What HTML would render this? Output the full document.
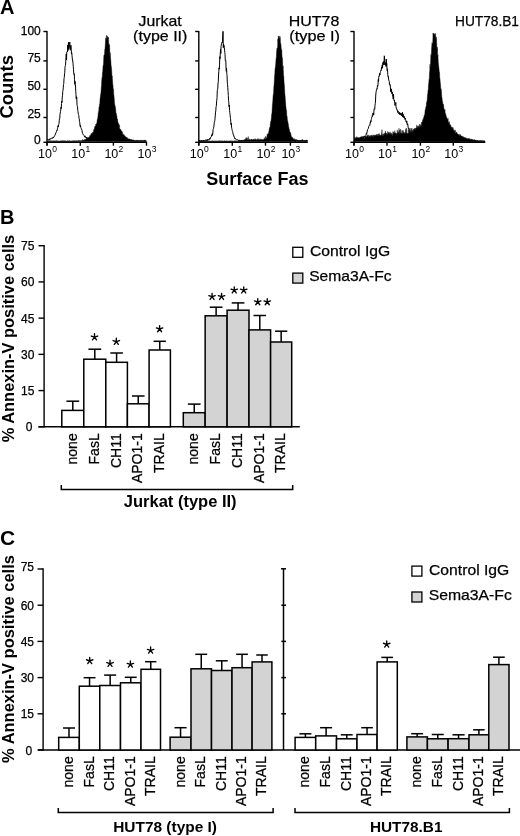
<!DOCTYPE html>
<html><head><meta charset="utf-8"><style>
html,body{margin:0;padding:0;background:#fff;width:520px;height:836px;overflow:hidden}
svg{display:block;will-change:transform}
text{font-family:"Liberation Sans", sans-serif;fill:#000}
text[font-weight=normal]{stroke:#000;stroke-width:0.25px}
</style></head><body>
<svg width="520" height="836" viewBox="0 0 520 836">
<rect width="520" height="836" fill="#fff"/>
<text x="0.00" y="14.40" font-size="20" font-weight="bold" text-anchor="start">A</text>
<text x="0.00" y="223.60" font-size="20" font-weight="bold" text-anchor="start">B</text>
<text x="0.00" y="545.30" font-size="21" font-weight="bold" text-anchor="start">C</text>
<line x1="47.00" y1="30.90" x2="47.00" y2="145.50" stroke="#000" stroke-width="1.4"/>
<line x1="43.40" y1="31.50" x2="47.00" y2="31.50" stroke="#000" stroke-width="1.4"/>
<line x1="43.40" y1="60.90" x2="47.00" y2="60.90" stroke="#000" stroke-width="1.4"/>
<line x1="43.40" y1="89.30" x2="47.00" y2="89.30" stroke="#000" stroke-width="1.4"/>
<line x1="43.40" y1="117.50" x2="47.00" y2="117.50" stroke="#000" stroke-width="1.4"/>
<line x1="43.40" y1="142.30" x2="47.00" y2="142.30" stroke="#000" stroke-width="1.4"/>
<line x1="46.30" y1="142.30" x2="146.80" y2="142.30" stroke="#000" stroke-width="1.4"/>
<line x1="47.00" y1="142.30" x2="47.00" y2="145.70" stroke="#000" stroke-width="1.4"/>
<text x="38.00" y="158.0" font-size="12.5">10<tspan font-size="8.5" dx="0.3" dy="-6.3">0</tspan></text>
<line x1="80.30" y1="142.30" x2="80.30" y2="145.70" stroke="#000" stroke-width="1.4"/>
<text x="71.30" y="158.0" font-size="12.5">10<tspan font-size="8.5" dx="0.3" dy="-6.3">1</tspan></text>
<line x1="113.40" y1="142.30" x2="113.40" y2="145.70" stroke="#000" stroke-width="1.4"/>
<text x="104.40" y="158.0" font-size="12.5">10<tspan font-size="8.5" dx="0.3" dy="-6.3">2</tspan></text>
<line x1="146.50" y1="142.30" x2="146.50" y2="145.70" stroke="#000" stroke-width="1.4"/>
<text x="137.50" y="158.0" font-size="12.5">10<tspan font-size="8.5" dx="0.3" dy="-6.3">3</tspan></text>
<line x1="198.80" y1="30.90" x2="198.80" y2="145.50" stroke="#000" stroke-width="1.4"/>
<line x1="195.20" y1="31.50" x2="198.80" y2="31.50" stroke="#000" stroke-width="1.4"/>
<line x1="195.20" y1="60.90" x2="198.80" y2="60.90" stroke="#000" stroke-width="1.4"/>
<line x1="195.20" y1="89.30" x2="198.80" y2="89.30" stroke="#000" stroke-width="1.4"/>
<line x1="195.20" y1="117.50" x2="198.80" y2="117.50" stroke="#000" stroke-width="1.4"/>
<line x1="195.20" y1="142.30" x2="198.80" y2="142.30" stroke="#000" stroke-width="1.4"/>
<line x1="198.10" y1="142.30" x2="307.80" y2="142.30" stroke="#000" stroke-width="1.4"/>
<line x1="198.80" y1="142.30" x2="198.80" y2="145.70" stroke="#000" stroke-width="1.4"/>
<text x="189.80" y="158.0" font-size="12.5">10<tspan font-size="8.5" dx="0.3" dy="-6.3">0</tspan></text>
<line x1="232.30" y1="142.30" x2="232.30" y2="145.70" stroke="#000" stroke-width="1.4"/>
<text x="223.30" y="158.0" font-size="12.5">10<tspan font-size="8.5" dx="0.3" dy="-6.3">1</tspan></text>
<line x1="265.50" y1="142.30" x2="265.50" y2="145.70" stroke="#000" stroke-width="1.4"/>
<text x="256.50" y="158.0" font-size="12.5">10<tspan font-size="8.5" dx="0.3" dy="-6.3">2</tspan></text>
<line x1="290.40" y1="142.30" x2="290.40" y2="145.70" stroke="#000" stroke-width="1.4"/>
<text x="281.40" y="158.0" font-size="12.5">10<tspan font-size="8.5" dx="0.3" dy="-6.3">3</tspan></text>
<line x1="354.00" y1="30.90" x2="354.00" y2="145.50" stroke="#000" stroke-width="1.4"/>
<line x1="350.40" y1="31.50" x2="354.00" y2="31.50" stroke="#000" stroke-width="1.4"/>
<line x1="350.40" y1="60.90" x2="354.00" y2="60.90" stroke="#000" stroke-width="1.4"/>
<line x1="350.40" y1="89.30" x2="354.00" y2="89.30" stroke="#000" stroke-width="1.4"/>
<line x1="350.40" y1="117.50" x2="354.00" y2="117.50" stroke="#000" stroke-width="1.4"/>
<line x1="350.40" y1="142.30" x2="354.00" y2="142.30" stroke="#000" stroke-width="1.4"/>
<line x1="353.30" y1="142.30" x2="485.30" y2="142.30" stroke="#000" stroke-width="1.4"/>
<line x1="354.00" y1="142.30" x2="354.00" y2="145.70" stroke="#000" stroke-width="1.4"/>
<text x="345.00" y="158.0" font-size="12.5">10<tspan font-size="8.5" dx="0.3" dy="-6.3">0</tspan></text>
<line x1="387.00" y1="142.30" x2="387.00" y2="145.70" stroke="#000" stroke-width="1.4"/>
<text x="378.00" y="158.0" font-size="12.5">10<tspan font-size="8.5" dx="0.3" dy="-6.3">1</tspan></text>
<line x1="420.40" y1="142.30" x2="420.40" y2="145.70" stroke="#000" stroke-width="1.4"/>
<text x="411.40" y="158.0" font-size="12.5">10<tspan font-size="8.5" dx="0.3" dy="-6.3">2</tspan></text>
<line x1="453.30" y1="142.30" x2="453.30" y2="145.70" stroke="#000" stroke-width="1.4"/>
<text x="444.30" y="158.0" font-size="12.5">10<tspan font-size="8.5" dx="0.3" dy="-6.3">3</tspan></text>
<text x="40.80" y="35.20" font-size="12" font-weight="normal" text-anchor="end">100</text>
<text x="40.80" y="62.30" font-size="12" font-weight="normal" text-anchor="end">75</text>
<text x="40.80" y="89.70" font-size="12" font-weight="normal" text-anchor="end">50</text>
<text x="40.80" y="117.90" font-size="12" font-weight="normal" text-anchor="end">25</text>
<text x="40.80" y="143.50" font-size="12" font-weight="normal" text-anchor="end">0</text>
<text x="13.50" y="86.80" font-size="18" font-weight="bold" text-anchor="middle" transform="rotate(-90 13.50 86.80)" textLength="63.30" lengthAdjust="spacingAndGlyphs">Counts</text>
<text x="257.40" y="184.60" font-size="18" font-weight="bold" text-anchor="middle">Surface Fas</text>
<text x="160.15" y="25.90" font-size="15" font-weight="normal" text-anchor="middle" textLength="43.10" lengthAdjust="spacingAndGlyphs">Jurkat</text>
<text x="160.25" y="41.10" font-size="15" font-weight="normal" text-anchor="middle" textLength="54.30" lengthAdjust="spacingAndGlyphs">(type II)</text>
<text x="314.10" y="26.20" font-size="15" font-weight="normal" text-anchor="middle" textLength="50.50" lengthAdjust="spacingAndGlyphs">HUT78</text>
<text x="314.65" y="41.40" font-size="15" font-weight="normal" text-anchor="middle" textLength="50.80" lengthAdjust="spacingAndGlyphs">(type I)</text>
<text x="455.00" y="25.90" font-size="15" font-weight="normal" text-anchor="start" textLength="64.00" lengthAdjust="spacingAndGlyphs">HUT78.B1</text>
<path d="M47.50,140.97 L47.75,140.75 L48.00,140.53 L48.25,140.58 L48.50,140.75 L48.75,140.88 L49.00,140.55 L49.25,141.01 L49.50,140.68 L49.75,140.78 L50.00,140.58 L50.25,140.93 L50.50,140.73 L50.75,140.77 L51.00,140.89 L51.25,140.57 L51.50,141.08 L51.75,141.01 L52.00,140.98 L52.25,140.92 L52.50,140.91 L52.75,140.81 L53.00,140.68 L53.25,140.76 L53.50,141.00 L53.75,140.98 L54.00,140.61 L54.25,140.98 L54.50,141.03 L54.75,140.73 L55.00,140.93 L55.25,140.78 L55.50,140.81 L55.75,141.04 L56.00,140.93 L56.25,140.84 L56.50,141.07 L56.75,140.64 L57.00,140.48 L57.25,140.80 L57.50,140.69 L57.75,140.99 L58.00,140.89 L58.25,141.01 L58.50,140.80 L58.75,140.91 L59.00,140.89 L59.25,141.04 L59.50,141.05 L59.75,141.06 L60.00,140.79 L60.25,140.74 L60.50,140.97 L60.75,140.92 L61.00,140.71 L61.25,140.61 L61.50,140.95 L61.75,141.08 L62.00,141.04 L62.25,141.08 L62.50,140.79 L62.75,140.24 L63.00,140.78 L63.25,140.95 L63.50,140.66 L63.75,140.95 L64.00,140.66 L64.25,141.08 L64.50,140.94 L64.75,140.94 L65.00,140.57 L65.25,141.06 L65.50,140.70 L65.75,140.88 L66.00,140.97 L66.25,140.93 L66.50,141.08 L66.75,141.04 L67.00,141.08 L67.25,140.81 L67.50,140.65 L67.75,140.83 L68.00,141.04 L68.25,141.03 L68.50,140.94 L68.75,140.47 L69.00,140.69 L69.25,140.69 L69.50,140.85 L69.75,140.96 L70.00,140.64 L70.25,140.93 L70.50,140.99 L70.75,141.01 L71.00,141.07 L71.25,140.84 L71.50,140.90 L71.75,141.07 L72.00,141.02 L72.25,140.97 L72.50,140.61 L72.75,141.05 L73.00,141.08 L73.25,140.87 L73.50,140.79 L73.75,140.71 L74.00,140.62 L74.25,140.75 L74.50,140.83 L74.75,140.72 L75.00,140.70 L75.25,141.07 L75.50,140.71 L75.75,140.95 L76.00,140.45 L76.25,140.77 L76.50,140.72 L76.75,140.86 L77.00,140.63 L77.25,140.63 L77.50,140.79 L77.75,140.96 L78.00,140.85 L78.25,140.77 L78.50,140.20 L78.75,140.84 L79.00,140.42 L79.25,140.64 L79.50,140.73 L79.75,140.55 L80.00,140.66 L80.25,140.94 L80.50,140.48 L80.75,140.46 L81.00,140.66 L81.25,140.55 L81.50,140.56 L81.75,140.39 L82.00,140.65 L82.25,140.49 L82.50,139.40 L82.75,139.90 L83.00,140.29 L83.25,140.29 L83.50,139.97 L83.75,140.11 L84.00,139.90 L84.25,140.42 L84.50,139.37 L84.75,139.57 L85.00,139.77 L85.25,139.60 L85.50,139.15 L85.75,139.75 L86.00,138.87 L86.25,138.86 L86.50,138.47 L86.75,138.09 L87.00,138.87 L87.25,139.62 L87.50,138.00 L87.75,137.73 L88.00,137.55 L88.25,137.92 L88.50,137.30 L88.75,137.33 L89.00,137.94 L89.25,136.94 L89.50,136.80 L89.75,135.59 L90.00,136.13 L90.25,135.24 L90.50,135.75 L90.75,136.31 L91.00,133.81 L91.25,134.83 L91.50,133.74 L91.75,132.87 L92.00,134.14 L92.25,133.95 L92.50,132.20 L92.75,132.39 L93.00,132.80 L93.25,132.12 L93.50,131.25 L93.75,129.56 L94.00,130.16 L94.25,129.16 L94.50,127.59 L94.75,126.88 L95.00,125.92 L95.25,126.08 L95.50,127.55 L95.75,124.03 L96.00,124.32 L96.25,123.88 L96.50,123.66 L96.75,123.13 L97.00,121.69 L97.25,119.32 L97.50,119.33 L97.75,117.77 L98.00,116.02 L98.25,112.73 L98.50,112.21 L98.75,110.48 L99.00,106.88 L99.25,107.03 L99.50,103.89 L99.75,103.64 L100.00,99.77 L100.25,97.62 L100.50,95.35 L100.75,93.78 L101.00,91.97 L101.25,87.90 L101.50,85.36 L101.75,80.19 L102.00,77.53 L102.25,77.87 L102.50,71.94 L102.75,71.17 L103.00,66.26 L103.25,65.22 L103.50,64.14 L103.75,56.70 L104.00,54.87 L104.25,55.09 L104.50,54.52 L104.75,49.28 L105.00,48.92 L105.25,45.21 L105.50,40.98 L105.75,37.93 L106.00,40.29 L106.25,36.53 L106.50,35.33 L106.75,38.32 L107.00,40.81 L107.25,36.42 L107.50,35.88 L107.75,36.97 L108.00,38.84 L108.25,37.72 L108.50,37.09 L108.75,44.49 L109.00,43.77 L109.25,46.66 L109.50,44.63 L109.75,49.07 L110.00,59.33 L110.25,52.74 L110.50,59.95 L110.75,59.52 L111.00,64.24 L111.25,66.31 L111.50,68.10 L111.75,71.68 L112.00,76.97 L112.25,75.95 L112.50,80.16 L112.75,83.90 L113.00,85.65 L113.25,89.89 L113.50,89.07 L113.75,94.10 L114.00,96.02 L114.25,98.75 L114.50,102.42 L114.75,105.08 L115.00,105.16 L115.25,106.83 L115.50,107.50 L115.75,110.13 L116.00,113.73 L116.25,113.15 L116.50,114.42 L116.75,115.48 L117.00,117.48 L117.25,120.29 L117.50,119.05 L117.75,121.69 L118.00,121.75 L118.25,124.39 L118.50,123.06 L118.75,125.62 L119.00,124.59 L119.25,124.85 L119.50,125.85 L119.75,128.67 L120.00,128.95 L120.25,129.62 L120.50,129.00 L120.75,129.70 L121.00,130.32 L121.25,130.48 L121.50,130.92 L121.75,131.43 L122.00,131.15 L122.25,132.81 L122.50,132.28 L122.75,134.36 L123.00,134.68 L123.25,134.47 L123.50,134.88 L123.75,134.71 L124.00,134.17 L124.25,135.75 L124.50,136.07 L124.75,135.72 L125.00,135.76 L125.25,136.42 L125.50,136.63 L125.75,136.69 L126.00,137.08 L126.25,137.16 L126.50,137.38 L126.75,137.85 L127.00,137.13 L127.25,138.28 L127.50,138.05 L127.75,138.53 L128.00,138.77 L128.25,139.03 L128.50,138.90 L128.75,138.83 L129.00,138.98 L129.25,139.54 L129.50,138.68 L129.75,139.35 L130.00,139.03 L130.25,139.38 L130.50,139.49 L130.75,140.09 L131.00,139.24 L131.25,139.40 L131.50,139.85 L131.75,139.61 L132.00,139.68 L132.25,139.85 L132.50,140.58 L132.75,140.28 L133.00,139.68 L133.25,140.01 L133.50,140.24 L133.75,140.00 L134.00,140.69 L134.25,140.42 L134.50,140.44 L134.75,140.81 L135.00,140.70 L135.25,141.01 L135.50,140.92 L135.75,140.78 L136.00,140.67 L136.25,140.85 L136.50,140.73 L136.75,140.34 L137.00,140.75 L137.25,140.73 L137.50,140.77 L137.75,140.39 L138.00,140.96 L138.25,140.64 L138.50,140.93 L138.75,140.72 L139.00,140.77 L139.25,140.84 L139.50,140.88 L139.75,140.89 L140.00,140.63 L140.25,140.77 L140.50,140.88 L140.75,140.77 L141.00,140.59 L141.25,140.75 L141.50,140.22 L141.75,140.92 L142.00,140.89 L142.25,141.09 L142.50,140.81 L142.75,141.02 L143.00,140.86 L143.25,141.02 L143.50,141.00 L143.75,141.03 L144.00,141.07 L144.25,140.61 L144.50,140.44 L144.75,141.02 L145.00,140.60 L145.25,140.73 L145.50,141.06 L145.75,141.01 L146.00,140.84 L146.25,140.88 L146.25,141.60 L47.50,141.60 Z" fill="#000" stroke="#000" stroke-width="0.4"/>
<path d="M47.50,139.81 L47.75,139.08 L48.00,139.41 L48.25,139.76 L48.50,139.67 L48.75,139.55 L49.00,139.25 L49.25,139.45 L49.50,138.96 L49.75,139.89 L50.00,138.70 L50.25,138.96 L50.50,138.82 L50.75,138.84 L51.00,138.54 L51.25,138.26 L51.50,137.91 L51.75,138.35 L52.00,138.33 L52.25,137.74 L52.50,138.25 L52.75,138.15 L53.00,137.37 L53.25,137.22 L53.50,138.03 L53.75,136.83 L54.00,136.76 L54.25,136.54 L54.50,136.38 L54.75,135.51 L55.00,134.62 L55.25,134.39 L55.50,134.53 L55.75,132.88 L56.00,132.30 L56.25,132.31 L56.50,131.39 L56.75,130.35 L57.00,130.67 L57.25,129.99 L57.50,128.19 L57.75,127.58 L58.00,125.70 L58.25,127.03 L58.50,124.93 L58.75,124.27 L59.00,123.78 L59.25,120.15 L59.50,118.60 L59.75,118.63 L60.00,114.12 L60.25,112.97 L60.50,111.66 L60.75,109.96 L61.00,107.27 L61.25,108.54 L61.50,103.56 L61.75,101.11 L62.00,102.40 L62.25,97.10 L62.50,95.71 L62.75,91.37 L63.00,90.61 L63.25,87.89 L63.50,84.35 L63.75,83.68 L64.00,78.76 L64.25,77.73 L64.50,73.94 L64.75,72.78 L65.00,67.46 L65.25,65.72 L65.50,65.29 L65.75,61.21 L66.00,57.56 L66.25,53.95 L66.50,59.81 L66.75,52.14 L67.00,51.70 L67.25,51.47 L67.50,52.00 L67.75,45.08 L68.00,50.49 L68.25,44.86 L68.50,42.28 L68.75,48.90 L69.00,45.57 L69.25,47.39 L69.50,44.23 L69.75,42.14 L70.00,44.54 L70.25,50.18 L70.50,48.11 L70.75,46.13 L71.00,45.35 L71.25,49.42 L71.50,53.78 L71.75,52.74 L72.00,55.58 L72.25,57.90 L72.50,60.90 L72.75,60.58 L73.00,63.16 L73.25,66.51 L73.50,69.22 L73.75,73.66 L74.00,74.50 L74.25,73.70 L74.50,79.20 L74.75,84.20 L75.00,81.36 L75.25,85.46 L75.50,85.17 L75.75,91.54 L76.00,94.64 L76.25,98.91 L76.50,96.77 L76.75,97.07 L77.00,104.72 L77.25,106.36 L77.50,106.49 L77.75,110.46 L78.00,111.78 L78.25,113.90 L78.50,114.59 L78.75,115.40 L79.00,118.09 L79.25,118.63 L79.50,121.63 L79.75,121.94 L80.00,125.97 L80.25,126.48 L80.50,125.26 L80.75,127.53 L81.00,127.72 L81.25,128.72 L81.50,128.79 L81.75,129.87 L82.00,130.46 L82.25,131.99 L82.50,133.13 L82.75,133.75 L83.00,134.03 L83.25,134.76 L83.50,134.74 L83.75,135.11 L84.00,135.41 L84.25,135.73 L84.50,137.13 L84.75,136.30 L85.00,136.40 L85.25,136.24 L85.50,137.04 L85.75,137.76 L86.00,137.73 L86.25,136.96 L86.50,137.68 L86.75,137.12 L87.00,137.46 L87.25,138.66 L87.50,138.52 L87.75,138.44 L88.00,138.56 L88.25,138.77 L88.50,138.87 L88.75,138.66 L89.00,139.48 L89.25,139.36 L89.50,139.38 L89.75,139.08 L90.00,139.35 L90.25,139.21 L90.50,139.45 L90.75,139.39 L91.00,139.68 L91.25,139.35 L91.50,139.99 L91.75,139.64 L92.00,140.05 L92.25,139.65 L92.50,140.03 L92.75,139.74 L93.00,140.22 L93.25,139.71 L93.50,140.00 L93.75,140.25 L94.00,139.75 L94.25,140.21 L94.50,139.86 L94.75,140.26 L95.00,140.30 L95.25,140.04 L95.50,140.21 L95.75,139.99 L96.00,140.52 L96.25,139.99 L96.50,139.95 L96.75,140.23 L97.00,140.07 L97.25,140.36 L97.50,140.30 L97.75,140.74 L98.00,140.51 L98.25,140.36 L98.50,140.12 L98.75,140.27 L99.00,140.42 L99.25,140.57 L99.50,140.24 L99.75,140.23 L100.00,140.08 L100.25,140.50 L100.50,140.14 L100.75,140.74 L101.00,140.75 L101.25,140.26 L101.50,140.57 L101.75,140.59 L102.00,140.32 L102.25,140.33 L102.50,140.51 L102.75,140.35 L103.00,140.29 L103.25,140.53 L103.50,140.48 L103.75,140.77 L104.00,140.48 L104.25,140.78 L104.50,140.45 L104.75,140.32 L105.00,140.45 L105.25,140.69 L105.50,140.73 L105.75,140.39 L106.00,140.37 L106.25,140.83 L106.50,140.72 L106.75,140.62 L107.00,140.66 L107.25,140.65 L107.50,140.71 L107.75,140.70 L108.00,140.68 L108.25,140.77 L108.50,140.60 L108.75,140.79 L109.00,140.67 L109.25,140.09 L109.50,140.66 L109.75,140.70 L110.00,140.35 L110.25,140.17 L110.50,140.26 L110.75,140.45 L111.00,140.76 L111.25,140.05 L111.50,140.67 L111.75,140.44 L112.00,140.73 L112.25,140.05 L112.50,140.10 L112.75,140.50 L113.00,140.73 L113.25,140.42 L113.50,140.46 L113.75,140.34 L114.00,140.47 L114.25,140.36 L114.50,140.57 L114.75,140.47 L115.00,140.54 L115.25,140.47 L115.50,140.55 L115.75,140.44 L116.00,140.56 L116.25,140.77 L116.50,140.67 L116.75,140.53 L117.00,140.73 L117.25,140.23 L117.50,140.71 L117.75,140.68 L118.00,140.60 L118.25,140.42 L118.50,140.29 L118.75,140.71 L119.00,140.46 L119.25,140.38 L119.50,140.30 L119.75,140.74 L120.00,140.53 L120.25,140.79 L120.50,140.59 L120.75,140.71 L121.00,140.33 L121.25,140.68 L121.50,140.76 L121.75,140.70 L122.00,140.78 L122.25,140.55 L122.50,140.54 L122.75,140.69 L123.00,140.77 L123.25,140.07 L123.50,140.67 L123.75,140.74 L124.00,140.19 L124.25,140.80 L124.50,140.47 L124.75,140.60 L125.00,140.53 L125.25,140.65 L125.50,140.70 L125.75,140.76 L126.00,140.57 L126.25,140.63 L126.50,140.62 L126.75,140.45 L127.00,140.58 L127.25,140.63 L127.50,140.19 L127.75,140.63 L128.00,140.35 L128.25,140.41 L128.50,140.75 L128.75,140.37 L129.00,140.66 L129.25,140.60 L129.50,140.51 L129.75,140.78 L130.00,140.44 L130.25,140.38 L130.50,140.48 L130.75,140.37 L131.00,140.75 L131.25,140.63 L131.50,140.70 L131.75,140.24 L132.00,140.50 L132.25,140.26 L132.50,140.77 L132.75,140.76 L133.00,140.75 L133.25,140.65 L133.50,140.36 L133.75,140.54 L134.00,140.52 L134.25,140.69 L134.50,140.62 L134.75,140.58 L135.00,140.58 L135.25,140.68 L135.50,140.60 L135.75,140.52 L136.00,140.66 L136.25,140.51 L136.50,140.76 L136.75,140.73 L137.00,140.70 L137.25,140.72 L137.50,140.74 L137.75,140.25 L138.00,140.32 L138.25,140.56 L138.50,140.63 L138.75,140.40 L139.00,140.73 L139.25,140.79 L139.50,140.63 L139.75,140.33 L140.00,140.74 L140.25,140.44 L140.50,140.53 L140.75,140.39 L141.00,140.46 L141.25,140.58 L141.50,140.65 L141.75,140.80 L142.00,140.59 L142.25,140.58 L142.50,140.49 L142.75,140.24 L143.00,140.44 L143.25,140.48 L143.50,140.37 L143.75,140.71 L144.00,140.60 L144.25,140.20 L144.50,140.05 L144.75,140.55 L145.00,140.42 L145.25,140.43 L145.50,140.45 L145.75,140.45 L146.00,140.36 L146.25,140.50" fill="none" stroke="#000" stroke-width="1.0" stroke-linejoin="bevel"/>
<path d="M199.30,140.65 L199.55,140.81 L199.80,141.10 L200.05,140.70 L200.30,141.10 L200.55,140.89 L200.80,141.10 L201.05,141.10 L201.30,140.86 L201.55,140.93 L201.80,141.01 L202.05,140.97 L202.30,141.02 L202.55,141.04 L202.80,141.10 L203.05,140.90 L203.30,141.00 L203.55,141.04 L203.80,141.10 L204.05,141.05 L204.30,141.10 L204.55,141.05 L204.80,141.10 L205.05,140.78 L205.30,141.10 L205.55,141.08 L205.80,141.00 L206.05,140.87 L206.30,140.92 L206.55,141.00 L206.80,140.63 L207.05,141.00 L207.30,140.95 L207.55,140.54 L207.80,141.10 L208.05,140.84 L208.30,140.92 L208.55,141.10 L208.80,141.10 L209.05,140.86 L209.30,141.10 L209.55,141.03 L209.80,140.84 L210.05,141.04 L210.30,140.95 L210.55,141.10 L210.80,141.10 L211.05,141.10 L211.30,141.06 L211.55,140.89 L211.80,140.99 L212.05,140.67 L212.30,140.91 L212.55,140.95 L212.80,140.62 L213.05,141.02 L213.30,141.10 L213.55,140.97 L213.80,141.10 L214.05,140.91 L214.30,140.77 L214.55,140.89 L214.80,141.07 L215.05,141.02 L215.30,140.92 L215.55,140.80 L215.80,141.07 L216.05,141.07 L216.30,140.82 L216.55,140.96 L216.80,140.94 L217.05,140.92 L217.30,141.10 L217.55,141.02 L217.80,140.82 L218.05,141.03 L218.30,141.03 L218.55,140.95 L218.80,140.93 L219.05,140.57 L219.30,141.10 L219.55,140.98 L219.80,140.66 L220.05,140.99 L220.30,140.93 L220.55,141.10 L220.80,140.83 L221.05,140.85 L221.30,140.86 L221.55,141.03 L221.80,140.94 L222.05,141.01 L222.30,140.85 L222.55,141.00 L222.80,140.87 L223.05,141.10 L223.30,141.05 L223.55,141.10 L223.80,141.02 L224.05,140.87 L224.30,141.04 L224.55,140.60 L224.80,141.10 L225.05,141.06 L225.30,141.10 L225.55,141.08 L225.80,141.08 L226.05,141.10 L226.30,141.10 L226.55,140.66 L226.80,141.04 L227.05,140.84 L227.30,141.10 L227.55,141.02 L227.80,140.91 L228.05,141.03 L228.30,141.09 L228.55,141.03 L228.80,140.99 L229.05,140.86 L229.30,140.80 L229.55,141.10 L229.80,141.10 L230.05,141.03 L230.30,141.00 L230.55,140.88 L230.80,140.82 L231.05,141.10 L231.30,140.65 L231.55,140.96 L231.80,141.10 L232.05,140.84 L232.30,140.95 L232.55,140.95 L232.80,141.10 L233.05,141.05 L233.30,140.97 L233.55,141.03 L233.80,140.88 L234.05,140.79 L234.30,140.74 L234.55,140.79 L234.80,141.02 L235.05,140.71 L235.30,140.96 L235.55,140.85 L235.80,141.04 L236.05,141.10 L236.30,141.10 L236.55,140.97 L236.80,141.10 L237.05,141.00 L237.30,140.85 L237.55,141.10 L237.80,141.10 L238.05,140.96 L238.30,140.94 L238.55,141.05 L238.80,141.09 L239.05,141.10 L239.30,141.01 L239.55,141.10 L239.80,140.93 L240.05,140.84 L240.30,141.09 L240.55,140.93 L240.80,140.97 L241.05,140.88 L241.30,140.74 L241.55,140.89 L241.80,140.88 L242.05,140.86 L242.30,141.07 L242.55,141.00 L242.80,140.94 L243.05,140.79 L243.30,140.78 L243.55,140.61 L243.80,141.10 L244.05,139.55 L244.30,141.10 L244.55,139.55 L244.80,141.01 L245.05,140.48 L245.30,139.61 L245.55,141.05 L245.80,138.22 L246.05,139.37 L246.30,137.37 L246.55,140.52 L246.80,140.35 L247.05,140.40 L247.30,137.79 L247.55,140.09 L247.80,141.07 L248.05,140.76 L248.30,136.59 L248.55,140.15 L248.80,140.08 L249.05,140.44 L249.30,139.85 L249.55,138.82 L249.80,140.46 L250.05,140.78 L250.30,140.15 L250.55,140.37 L250.80,140.82 L251.05,139.81 L251.30,139.25 L251.55,139.65 L251.80,138.97 L252.05,141.09 L252.30,140.51 L252.55,139.56 L252.80,139.81 L253.05,139.68 L253.30,138.98 L253.55,140.38 L253.80,139.52 L254.05,138.86 L254.30,139.09 L254.55,139.87 L254.80,140.51 L255.05,140.17 L255.30,138.59 L255.55,139.19 L255.80,139.54 L256.05,140.75 L256.30,141.10 L256.55,140.94 L256.80,139.06 L257.05,139.53 L257.30,140.89 L257.55,139.10 L257.80,139.67 L258.05,138.24 L258.30,140.85 L258.55,140.69 L258.80,139.19 L259.05,140.70 L259.30,140.55 L259.55,140.03 L259.80,139.26 L260.05,138.71 L260.30,140.55 L260.55,139.74 L260.80,139.37 L261.05,139.23 L261.30,138.93 L261.55,139.73 L261.80,140.61 L262.05,140.37 L262.30,139.44 L262.55,139.39 L262.80,140.40 L263.05,139.21 L263.30,140.11 L263.55,139.77 L263.80,139.53 L264.05,139.76 L264.30,137.47 L264.55,139.54 L264.80,138.79 L265.05,139.29 L265.30,139.01 L265.55,136.78 L265.80,136.27 L266.05,136.92 L266.30,138.30 L266.55,138.35 L266.80,138.03 L267.05,135.46 L267.30,133.76 L267.55,136.11 L267.80,133.93 L268.05,133.65 L268.30,134.16 L268.55,133.02 L268.80,131.48 L269.05,130.69 L269.30,128.72 L269.55,127.75 L269.80,127.22 L270.05,127.51 L270.30,124.14 L270.55,122.42 L270.80,121.05 L271.05,120.64 L271.30,118.85 L271.55,114.96 L271.80,113.82 L272.05,111.71 L272.30,106.24 L272.55,103.35 L272.80,100.74 L273.05,96.69 L273.30,94.06 L273.55,93.93 L273.80,86.96 L274.05,85.17 L274.30,81.15 L274.55,75.66 L274.80,74.10 L275.05,68.49 L275.30,67.82 L275.55,65.26 L275.80,62.61 L276.05,58.28 L276.30,58.38 L276.55,52.16 L276.80,49.56 L277.05,47.94 L277.30,49.34 L277.55,47.18 L277.80,39.16 L278.05,41.37 L278.30,36.28 L278.55,38.79 L278.80,35.82 L279.05,39.66 L279.30,37.92 L279.55,37.39 L279.80,36.32 L280.05,36.36 L280.30,37.86 L280.55,44.81 L280.80,43.49 L281.05,46.01 L281.30,49.37 L281.55,49.36 L281.80,50.10 L282.05,57.22 L282.30,57.13 L282.55,59.81 L282.80,67.84 L283.05,65.82 L283.30,69.43 L283.55,75.37 L283.80,76.32 L284.05,82.22 L284.30,84.08 L284.55,88.19 L284.80,93.74 L285.05,95.11 L285.30,98.74 L285.55,102.07 L285.80,105.70 L286.05,107.80 L286.30,110.84 L286.55,110.31 L286.80,116.20 L287.05,115.96 L287.30,118.69 L287.55,121.17 L287.80,120.91 L288.05,123.99 L288.30,123.63 L288.55,126.26 L288.80,127.11 L289.05,128.66 L289.30,129.14 L289.55,129.94 L289.80,131.85 L290.05,132.37 L290.30,131.99 L290.55,134.17 L290.80,133.38 L291.05,135.24 L291.30,135.85 L291.55,136.90 L291.80,136.88 L292.05,137.69 L292.30,137.48 L292.55,137.25 L292.80,137.88 L293.05,138.38 L293.30,138.79 L293.55,138.87 L293.80,139.35 L294.05,139.46 L294.30,138.52 L294.55,139.27 L294.80,139.79 L295.05,139.42 L295.30,139.30 L295.55,140.05 L295.80,140.00 L296.05,140.41 L296.30,140.57 L296.55,139.88 L296.80,139.45 L297.05,140.55 L297.30,140.82 L297.55,140.16 L297.80,140.30 L298.05,140.48 L298.30,140.31 L298.55,140.74 L298.80,140.64 L299.05,140.57 L299.30,140.82 L299.55,140.69 L299.80,140.85 L300.05,140.74 L300.30,140.82 L300.55,141.10 L300.80,140.86 L301.05,141.10 L301.30,141.06 L301.55,141.10 L301.80,140.78 L302.05,140.99 L302.30,141.01 L302.55,140.73 L302.80,140.83 L303.05,141.00 L303.30,141.10 L303.55,140.86 L303.80,141.02 L304.05,141.04 L304.30,140.85 L304.55,141.09 L304.80,141.00 L305.05,140.84 L305.30,140.89 L305.55,141.10 L305.80,140.74 L306.05,140.80 L306.30,140.67 L306.55,141.00 L306.80,140.96 L307.05,140.82 L307.30,140.92 L307.30,141.60 L199.30,141.60 Z" fill="#000" stroke="#000" stroke-width="0.4"/>
<path d="M199.30,141.25 L199.55,140.42 L199.80,140.93 L200.05,140.71 L200.30,140.40 L200.55,140.98 L200.80,141.07 L201.05,141.01 L201.30,140.86 L201.55,140.47 L201.80,140.65 L202.05,140.80 L202.30,140.34 L202.55,140.39 L202.80,140.86 L203.05,140.52 L203.30,140.04 L203.55,140.83 L203.80,140.18 L204.05,140.93 L204.30,140.57 L204.55,140.70 L204.80,140.48 L205.05,140.36 L205.30,140.13 L205.55,140.30 L205.80,140.63 L206.05,139.64 L206.30,140.51 L206.55,140.60 L206.80,140.77 L207.05,139.86 L207.30,139.52 L207.55,140.34 L207.80,139.68 L208.05,139.89 L208.30,139.39 L208.55,140.18 L208.80,139.74 L209.05,139.37 L209.30,139.24 L209.55,139.53 L209.80,138.38 L210.05,139.12 L210.30,138.53 L210.55,137.41 L210.80,137.51 L211.05,137.21 L211.30,136.69 L211.55,134.86 L211.80,135.39 L212.05,135.92 L212.30,133.50 L212.55,134.90 L212.80,133.42 L213.05,129.33 L213.30,128.67 L213.55,128.64 L213.80,126.59 L214.05,124.96 L214.30,122.41 L214.55,122.04 L214.80,120.54 L215.05,118.15 L215.30,115.12 L215.55,112.11 L215.80,110.90 L216.05,106.72 L216.30,106.39 L216.55,102.03 L216.80,100.22 L217.05,97.53 L217.30,90.25 L217.55,89.77 L217.80,88.05 L218.05,83.01 L218.30,81.72 L218.55,75.03 L218.80,71.52 L219.05,67.86 L219.30,69.11 L219.55,64.09 L219.80,56.66 L220.05,58.69 L220.30,52.77 L220.55,49.49 L220.80,53.57 L221.05,46.10 L221.30,45.20 L221.55,43.52 L221.80,42.41 L222.05,42.54 L222.30,42.80 L222.55,41.16 L222.80,33.40 L223.05,31.34 L223.30,47.68 L223.55,44.15 L223.80,46.51 L224.05,45.59 L224.30,47.59 L224.55,50.17 L224.80,52.49 L225.05,54.73 L225.30,60.69 L225.55,60.81 L225.80,60.48 L226.05,68.44 L226.30,71.30 L226.55,68.14 L226.80,73.49 L227.05,75.72 L227.30,82.14 L227.55,84.79 L227.80,87.79 L228.05,91.33 L228.30,95.55 L228.55,100.48 L228.80,102.27 L229.05,106.65 L229.30,105.05 L229.55,110.40 L229.80,112.59 L230.05,114.17 L230.30,117.10 L230.55,118.65 L230.80,121.94 L231.05,124.60 L231.30,123.17 L231.55,127.14 L231.80,128.47 L232.05,129.69 L232.30,130.77 L232.55,131.39 L232.80,132.31 L233.05,134.29 L233.30,134.34 L233.55,135.57 L233.80,135.33 L234.05,137.18 L234.30,137.18 L234.55,137.30 L234.80,138.59 L235.05,138.02 L235.30,138.51 L235.55,139.13 L235.80,138.95 L236.05,139.16 L236.30,139.58 L236.55,140.01 L236.80,139.98 L237.05,139.83 L237.30,139.66 L237.55,140.04 L237.80,139.75 L238.05,140.05 L238.30,140.90 L238.55,140.88 L238.80,141.14 L239.05,140.46 L239.30,140.85 L239.55,140.01 L239.80,140.18 L240.05,140.97 L240.30,140.69 L240.55,140.55 L240.80,140.41 L241.05,140.98 L241.30,139.96 L241.55,140.42 L241.80,140.74 L242.05,140.73 L242.30,140.50 L242.55,140.67 L242.80,140.10 L243.05,140.81 L243.30,140.39 L243.55,140.71 L243.80,140.54 L244.05,140.68 L244.30,140.52 L244.55,140.72 L244.80,140.54 L245.05,140.58 L245.30,140.47 L245.55,140.40 L245.80,140.51 L246.05,140.50 L246.30,139.47 L246.55,140.31 L246.80,141.01 L247.05,141.02 L247.30,140.28 L247.55,140.76 L247.80,140.44 L248.05,140.71 L248.30,140.33 L248.55,140.42 L248.80,140.95 L249.05,140.29 L249.30,140.68 L249.55,140.92 L249.80,140.57 L250.05,140.73 L250.30,139.83 L250.55,140.07 L250.80,139.83 L251.05,140.36 L251.30,140.44 L251.55,140.91 L251.80,140.53 L252.05,140.59 L252.30,140.59 L252.55,140.35 L252.80,140.72 L253.05,140.02 L253.30,140.54 L253.55,140.54 L253.80,140.50 L254.05,140.64 L254.30,141.03 L254.55,140.98 L254.80,140.46 L255.05,140.83 L255.30,140.44 L255.55,140.99 L255.80,140.93 L256.05,140.87 L256.30,140.49 L256.55,140.90 L256.80,140.83 L257.05,140.67 L257.30,140.60 L257.55,140.88 L257.80,140.34 L258.05,140.65 L258.30,140.47 L258.55,141.09 L258.80,140.45 L259.05,140.67 L259.30,140.46 L259.55,140.65 L259.80,140.92 L260.05,140.91 L260.30,140.79 L260.55,140.65 L260.80,140.27 L261.05,140.89 L261.30,140.90 L261.55,140.48 L261.80,140.09 L262.05,140.66 L262.30,140.30 L262.55,140.80 L262.80,140.67 L263.05,140.88 L263.30,140.75 L263.55,140.30 L263.80,140.74 L264.05,140.79 L264.30,140.69 L264.55,140.42 L264.80,140.56 L265.05,140.56 L265.30,140.49 L265.55,140.15 L265.80,139.59 L266.05,140.86 L266.30,140.74 L266.55,140.83 L266.80,140.38 L267.05,140.84 L267.30,140.50 L267.55,140.52 L267.80,140.10 L268.05,140.70 L268.30,140.72 L268.55,140.56 L268.80,140.15 L269.05,140.12 L269.30,140.83 L269.55,139.91 L269.80,140.21 L270.05,140.20 L270.30,139.97 L270.55,140.76 L270.80,140.88 L271.05,140.25 L271.30,140.50 L271.55,140.27 L271.80,140.78 L272.05,140.45 L272.30,140.79 L272.55,140.74 L272.80,140.50 L273.05,140.86 L273.30,140.54 L273.55,140.18 L273.80,140.50 L274.05,140.89 L274.30,140.60 L274.55,140.39 L274.80,141.17 L275.05,140.93 L275.30,140.08 L275.55,140.20 L275.80,141.10 L276.05,140.71 L276.30,140.68 L276.55,140.70 L276.80,139.45 L277.05,140.91 L277.30,139.97 L277.55,140.51 L277.80,140.92 L278.05,140.04 L278.30,140.41 L278.55,140.38 L278.80,139.46 L279.05,140.28 L279.30,140.52 L279.55,141.04 L279.80,140.93 L280.05,140.23 L280.30,140.56 L280.55,140.59 L280.80,140.70 L281.05,140.09 L281.30,140.38 L281.55,140.35 L281.80,140.38 L282.05,140.55 L282.30,140.32 L282.55,140.41 L282.80,140.61 L283.05,140.48 L283.30,139.63 L283.55,141.07 L283.80,140.50 L284.05,140.43 L284.30,140.56 L284.55,140.78 L284.80,140.40 L285.05,140.63 L285.30,140.65 L285.55,140.33 L285.80,140.61 L286.05,140.36 L286.30,140.92 L286.55,140.78 L286.80,140.62 L287.05,140.98 L287.30,140.20 L287.55,140.73 L287.80,140.65 L288.05,140.30 L288.30,140.36 L288.55,140.88 L288.80,140.73 L289.05,140.97 L289.30,140.74 L289.55,140.96 L289.80,140.98 L290.05,140.83 L290.30,140.46 L290.55,140.96 L290.80,140.93 L291.05,140.82 L291.30,140.40 L291.55,140.84 L291.80,140.98 L292.05,140.61 L292.30,140.70 L292.55,140.21 L292.80,140.79 L293.05,140.74 L293.30,140.80 L293.55,140.57 L293.80,140.18 L294.05,140.68 L294.30,140.67 L294.55,140.38 L294.80,140.79 L295.05,140.64 L295.30,141.19 L295.55,141.24 L295.80,140.76 L296.05,140.75 L296.30,139.84 L296.55,140.50 L296.80,140.57 L297.05,140.51 L297.30,140.43 L297.55,140.53 L297.80,140.53 L298.05,140.43 L298.30,140.75 L298.55,140.78 L298.80,140.78 L299.05,141.05 L299.30,140.25 L299.55,140.64 L299.80,140.67 L300.05,140.30 L300.30,140.83 L300.55,140.44 L300.80,140.13 L301.05,140.69 L301.30,140.91 L301.55,140.93 L301.80,140.02 L302.05,140.23 L302.30,140.85 L302.55,139.64 L302.80,140.98 L303.05,140.85 L303.30,140.43 L303.55,140.85 L303.80,140.61 L304.05,140.03 L304.30,140.78 L304.55,140.18 L304.80,140.43 L305.05,140.76 L305.30,140.86 L305.55,140.46 L305.80,140.51 L306.05,140.56 L306.30,140.49 L306.55,140.81 L306.80,139.92 L307.05,141.17 L307.30,140.52" fill="none" stroke="#000" stroke-width="1.0" stroke-linejoin="bevel"/>
<path d="M354.50,137.51 L354.75,137.63 L355.00,137.67 L355.25,139.23 L355.50,138.75 L355.75,137.33 L356.00,138.41 L356.25,137.67 L356.50,136.65 L356.75,138.48 L357.00,137.18 L357.25,137.08 L357.50,137.80 L357.75,138.25 L358.00,138.01 L358.25,138.68 L358.50,137.43 L358.75,137.38 L359.00,138.62 L359.25,138.11 L359.50,138.14 L359.75,137.16 L360.00,138.10 L360.25,137.20 L360.50,137.12 L360.75,137.41 L361.00,136.60 L361.25,137.17 L361.50,137.28 L361.75,136.65 L362.00,136.65 L362.25,136.12 L362.50,137.78 L362.75,137.80 L363.00,137.84 L363.25,135.89 L363.50,137.00 L363.75,136.66 L364.00,136.30 L364.25,137.74 L364.50,138.22 L364.75,137.88 L365.00,135.77 L365.25,137.08 L365.50,137.08 L365.75,137.12 L366.00,136.87 L366.25,137.58 L366.50,136.84 L366.75,135.69 L367.00,136.72 L367.25,136.00 L367.50,136.67 L367.75,134.71 L368.00,136.64 L368.25,134.90 L368.50,137.86 L368.75,136.89 L369.00,135.68 L369.25,135.45 L369.50,137.32 L369.75,136.16 L370.00,136.18 L370.25,137.52 L370.50,135.39 L370.75,135.79 L371.00,136.63 L371.25,135.17 L371.50,135.69 L371.75,136.68 L372.00,134.82 L372.25,136.49 L372.50,135.69 L372.75,136.87 L373.00,136.97 L373.25,136.40 L373.50,134.95 L373.75,135.37 L374.00,134.73 L374.25,135.88 L374.50,135.74 L374.75,135.32 L375.00,134.98 L375.25,135.50 L375.50,136.67 L375.75,134.86 L376.00,135.74 L376.25,135.13 L376.50,134.17 L376.75,134.72 L377.00,135.85 L377.25,136.26 L377.50,134.64 L377.75,135.05 L378.00,133.84 L378.25,134.70 L378.50,134.18 L378.75,136.59 L379.00,135.35 L379.25,133.46 L379.50,135.42 L379.75,135.36 L380.00,135.82 L380.25,134.85 L380.50,135.92 L380.75,135.95 L381.00,135.21 L381.25,135.68 L381.50,133.54 L381.75,132.19 L382.00,129.55 L382.25,135.74 L382.50,136.42 L382.75,134.32 L383.00,134.90 L383.25,134.59 L383.50,133.72 L383.75,135.67 L384.00,135.59 L384.25,133.34 L384.50,133.05 L384.75,134.87 L385.00,134.33 L385.25,131.11 L385.50,131.16 L385.75,132.77 L386.00,133.40 L386.25,134.46 L386.50,134.28 L386.75,133.10 L387.00,135.41 L387.25,133.55 L387.50,135.22 L387.75,131.27 L388.00,132.59 L388.25,132.52 L388.50,132.47 L388.75,133.53 L389.00,132.72 L389.25,133.44 L389.50,134.45 L389.75,133.42 L390.00,131.83 L390.25,134.38 L390.50,133.86 L390.75,132.59 L391.00,135.47 L391.25,134.25 L391.50,133.19 L391.75,133.62 L392.00,135.19 L392.25,135.89 L392.50,133.92 L392.75,133.40 L393.00,131.38 L393.25,132.44 L393.50,132.03 L393.75,133.54 L394.00,134.45 L394.25,133.00 L394.50,133.30 L394.75,130.65 L395.00,133.14 L395.25,133.49 L395.50,132.79 L395.75,132.71 L396.00,133.41 L396.25,134.27 L396.50,133.90 L396.75,133.10 L397.00,134.03 L397.25,129.90 L397.50,132.29 L397.75,133.53 L398.00,133.22 L398.25,131.69 L398.50,132.94 L398.75,133.54 L399.00,128.15 L399.25,133.85 L399.50,130.14 L399.75,133.38 L400.00,133.74 L400.25,132.36 L400.50,128.96 L400.75,132.17 L401.00,133.97 L401.25,133.55 L401.50,133.54 L401.75,132.19 L402.00,130.20 L402.25,130.53 L402.50,132.93 L402.75,134.13 L403.00,132.32 L403.25,130.46 L403.50,132.97 L403.75,133.29 L404.00,132.98 L404.25,132.50 L404.50,134.59 L404.75,132.62 L405.00,134.23 L405.25,132.88 L405.50,132.61 L405.75,128.64 L406.00,133.28 L406.25,132.98 L406.50,128.13 L406.75,132.15 L407.00,133.38 L407.25,133.57 L407.50,133.28 L407.75,133.86 L408.00,133.08 L408.25,129.78 L408.50,132.19 L408.75,133.31 L409.00,133.80 L409.25,132.47 L409.50,132.65 L409.75,127.90 L410.00,129.36 L410.25,130.32 L410.50,132.96 L410.75,132.20 L411.00,128.26 L411.25,131.55 L411.50,132.65 L411.75,129.64 L412.00,128.10 L412.25,132.68 L412.50,131.18 L412.75,130.08 L413.00,131.56 L413.25,131.16 L413.50,128.93 L413.75,128.95 L414.00,130.37 L414.25,130.02 L414.50,128.28 L414.75,130.02 L415.00,128.57 L415.25,129.41 L415.50,127.98 L415.75,130.36 L416.00,128.11 L416.25,127.84 L416.50,128.09 L416.75,124.91 L417.00,129.25 L417.25,127.67 L417.50,126.08 L417.75,126.18 L418.00,127.52 L418.25,126.95 L418.50,126.73 L418.75,125.64 L419.00,127.51 L419.25,125.05 L419.50,124.22 L419.75,127.53 L420.00,127.10 L420.25,126.43 L420.50,124.58 L420.75,125.15 L421.00,126.18 L421.25,125.12 L421.50,122.18 L421.75,123.07 L422.00,122.56 L422.25,122.00 L422.50,120.88 L422.75,119.55 L423.00,120.57 L423.25,118.92 L423.50,117.71 L423.75,117.16 L424.00,116.76 L424.25,115.06 L424.50,116.70 L424.75,114.22 L425.00,111.28 L425.25,109.52 L425.50,109.80 L425.75,106.98 L426.00,106.72 L426.25,106.19 L426.50,102.87 L426.75,101.61 L427.00,101.56 L427.25,99.10 L427.50,94.34 L427.75,94.15 L428.00,90.23 L428.25,90.57 L428.50,84.18 L428.75,83.21 L429.00,79.62 L429.25,80.06 L429.50,72.44 L429.75,70.59 L430.00,64.05 L430.25,68.19 L430.50,65.59 L430.75,57.56 L431.00,54.27 L431.25,57.02 L431.50,49.47 L431.75,46.00 L432.00,42.51 L432.25,42.91 L432.50,44.46 L432.75,43.45 L433.00,32.95 L433.25,35.08 L433.50,33.21 L433.75,34.70 L434.00,33.90 L434.25,33.54 L434.50,35.21 L434.75,34.01 L435.00,36.46 L435.25,35.70 L435.50,33.34 L435.75,37.18 L436.00,40.35 L436.25,36.84 L436.50,39.83 L436.75,44.80 L437.00,50.99 L437.25,47.01 L437.50,49.62 L437.75,56.25 L438.00,54.92 L438.25,62.25 L438.50,63.94 L438.75,67.12 L439.00,68.70 L439.25,72.07 L439.50,71.95 L439.75,77.81 L440.00,79.01 L440.25,82.20 L440.50,84.28 L440.75,88.34 L441.00,89.27 L441.25,89.16 L441.50,92.07 L441.75,96.99 L442.00,97.63 L442.25,100.19 L442.50,101.36 L442.75,102.75 L443.00,104.94 L443.25,103.99 L443.50,104.69 L443.75,106.86 L444.00,108.79 L444.25,109.04 L444.50,111.18 L444.75,109.92 L445.00,109.30 L445.25,116.08 L445.50,113.31 L445.75,114.48 L446.00,115.06 L446.25,116.30 L446.50,118.33 L446.75,117.44 L447.00,118.42 L447.25,118.77 L447.50,119.27 L447.75,120.32 L448.00,118.07 L448.25,122.17 L448.50,121.85 L448.75,123.23 L449.00,122.66 L449.25,121.56 L449.50,123.54 L449.75,124.74 L450.00,125.64 L450.25,124.41 L450.50,125.96 L450.75,125.22 L451.00,126.78 L451.25,127.04 L451.50,127.05 L451.75,128.72 L452.00,126.79 L452.25,129.04 L452.50,128.37 L452.75,128.48 L453.00,127.37 L453.25,129.14 L453.50,129.19 L453.75,130.49 L454.00,130.52 L454.25,130.72 L454.50,130.25 L454.75,131.95 L455.00,131.26 L455.25,129.86 L455.50,132.68 L455.75,133.48 L456.00,132.85 L456.25,132.82 L456.50,131.91 L456.75,132.87 L457.00,132.67 L457.25,134.01 L457.50,133.79 L457.75,133.78 L458.00,134.63 L458.25,134.15 L458.50,134.65 L458.75,134.53 L459.00,135.59 L459.25,136.09 L459.50,134.39 L459.75,135.25 L460.00,135.47 L460.25,134.22 L460.50,135.17 L460.75,135.60 L461.00,136.28 L461.25,135.90 L461.50,136.09 L461.75,136.44 L462.00,135.76 L462.25,136.20 L462.50,136.40 L462.75,137.15 L463.00,137.19 L463.25,136.49 L463.50,136.98 L463.75,137.42 L464.00,137.14 L464.25,137.36 L464.50,137.65 L464.75,137.63 L465.00,137.34 L465.25,137.60 L465.50,138.16 L465.75,138.19 L466.00,137.87 L466.25,138.47 L466.50,138.10 L466.75,138.27 L467.00,138.78 L467.25,139.25 L467.50,138.75 L467.75,138.53 L468.00,138.60 L468.25,138.24 L468.50,138.73 L468.75,138.82 L469.00,138.74 L469.25,139.07 L469.50,138.44 L469.75,139.23 L470.00,139.38 L470.25,139.32 L470.50,138.86 L470.75,139.45 L471.00,139.56 L471.25,139.22 L471.50,139.11 L471.75,139.61 L472.00,139.35 L472.25,139.77 L472.50,139.27 L472.75,139.97 L473.00,139.80 L473.25,139.88 L473.50,140.05 L473.75,139.88 L474.00,139.74 L474.25,140.14 L474.50,139.54 L474.75,139.96 L475.00,139.98 L475.25,140.26 L475.50,140.14 L475.75,139.97 L476.00,140.40 L476.25,140.37 L476.50,140.42 L476.75,140.54 L477.00,140.19 L477.25,140.50 L477.50,140.06 L477.75,140.63 L478.00,140.49 L478.25,140.44 L478.50,140.65 L478.75,140.86 L479.00,140.63 L479.25,140.55 L479.50,140.72 L479.75,140.54 L480.00,140.89 L480.25,140.58 L480.50,140.33 L480.75,140.52 L481.00,140.54 L481.25,140.75 L481.50,140.77 L481.75,140.58 L482.00,140.79 L482.25,140.68 L482.50,140.90 L482.75,140.74 L483.00,140.78 L483.25,141.07 L483.50,140.84 L483.75,140.77 L484.00,140.79 L484.25,140.82 L484.50,140.73 L484.75,140.89 L484.75,141.60 L354.50,141.60 Z" fill="#000" stroke="#000" stroke-width="0.4"/>
<path d="M354.50,140.10 L354.75,139.06 L355.00,140.35 L355.25,139.93 L355.50,139.45 L355.75,140.20 L356.00,140.00 L356.25,139.67 L356.50,139.28 L356.75,139.92 L357.00,139.50 L357.25,139.46 L357.50,138.95 L357.75,139.60 L358.00,138.86 L358.25,139.05 L358.50,139.20 L358.75,138.72 L359.00,138.88 L359.25,138.84 L359.50,139.14 L359.75,138.67 L360.00,138.76 L360.25,138.97 L360.50,138.76 L360.75,138.73 L361.00,137.81 L361.25,139.40 L361.50,139.07 L361.75,139.22 L362.00,138.48 L362.25,138.38 L362.50,137.65 L362.75,138.50 L363.00,137.98 L363.25,137.60 L363.50,137.24 L363.75,137.08 L364.00,136.84 L364.25,136.70 L364.50,136.74 L364.75,135.94 L365.00,137.05 L365.25,136.20 L365.50,136.14 L365.75,135.56 L366.00,135.24 L366.25,133.93 L366.50,132.82 L366.75,133.54 L367.00,132.50 L367.25,131.27 L367.50,129.68 L367.75,129.25 L368.00,129.06 L368.25,128.71 L368.50,128.03 L368.75,126.55 L369.00,125.73 L369.25,125.38 L369.50,125.25 L369.75,125.52 L370.00,124.00 L370.25,122.53 L370.50,123.09 L370.75,120.77 L371.00,121.58 L371.25,119.58 L371.50,118.74 L371.75,117.20 L372.00,116.81 L372.25,115.54 L372.50,116.47 L372.75,115.57 L373.00,112.91 L373.25,115.09 L373.50,113.60 L373.75,114.67 L374.00,109.70 L374.25,108.78 L374.50,109.34 L374.75,109.26 L375.00,105.14 L375.25,103.49 L375.50,101.03 L375.75,94.94 L376.00,92.68 L376.25,90.84 L376.50,89.76 L376.75,88.77 L377.00,89.27 L377.25,87.92 L377.50,85.35 L377.75,86.19 L378.00,84.70 L378.25,79.50 L378.50,81.56 L378.75,77.34 L379.00,75.92 L379.25,76.11 L379.50,73.53 L379.75,74.40 L380.00,74.91 L380.25,72.62 L380.50,71.63 L380.75,70.53 L381.00,69.96 L381.25,70.41 L381.50,66.95 L381.75,68.81 L382.00,68.22 L382.25,64.82 L382.50,67.78 L382.75,65.51 L383.00,62.41 L383.25,64.47 L383.50,61.56 L383.75,64.52 L384.00,64.95 L384.25,55.80 L384.50,56.42 L384.75,64.40 L385.00,64.83 L385.25,62.41 L385.50,63.83 L385.75,65.15 L386.00,66.50 L386.25,59.07 L386.50,65.82 L386.75,63.41 L387.00,69.23 L387.25,70.76 L387.50,68.84 L387.75,74.72 L388.00,76.32 L388.25,75.97 L388.50,79.04 L388.75,80.04 L389.00,81.03 L389.25,81.41 L389.50,84.41 L389.75,85.23 L390.00,84.42 L390.25,85.12 L390.50,89.00 L390.75,91.96 L391.00,91.69 L391.25,88.87 L391.50,92.53 L391.75,93.31 L392.00,94.05 L392.25,91.85 L392.50,94.74 L392.75,96.29 L393.00,97.67 L393.25,99.17 L393.50,94.19 L393.75,99.25 L394.00,99.61 L394.25,101.02 L394.50,100.04 L394.75,103.88 L395.00,105.48 L395.25,104.25 L395.50,104.16 L395.75,102.44 L396.00,106.32 L396.25,108.24 L396.50,108.07 L396.75,108.92 L397.00,110.21 L397.25,109.93 L397.50,110.62 L397.75,112.51 L398.00,110.91 L398.25,112.53 L398.50,112.73 L398.75,113.70 L399.00,112.70 L399.25,112.79 L399.50,112.27 L399.75,114.64 L400.00,113.23 L400.25,114.75 L400.50,114.31 L400.75,113.02 L401.00,112.85 L401.25,115.27 L401.50,115.96 L401.75,114.47 L402.00,113.50 L402.25,114.96 L402.50,112.32 L402.75,117.09 L403.00,113.92 L403.25,114.74 L403.50,115.18 L403.75,117.73 L404.00,116.07 L404.25,116.47 L404.50,117.10 L404.75,118.86 L405.00,119.48 L405.25,118.04 L405.50,119.65 L405.75,120.39 L406.00,121.47 L406.25,120.84 L406.50,122.58 L406.75,121.25 L407.00,122.22 L407.25,124.89 L407.50,123.84 L407.75,124.14 L408.00,126.12 L408.25,128.14 L408.50,128.94 L408.75,128.59 L409.00,131.25 L409.25,131.43 L409.50,130.69 L409.75,132.97 L410.00,133.81 L410.25,141.30 L410.50,141.30 L410.75,141.30 L411.00,141.30 L411.25,141.30 L411.50,141.30 L411.75,141.30 L412.00,141.30 L412.25,141.30 L412.50,141.30 L412.75,141.30 L413.00,141.30 L413.25,141.30 L413.50,141.30 L413.75,141.30 L414.00,141.30 L414.25,141.30 L414.50,141.30 L414.75,141.30 L415.00,141.30 L415.25,141.30 L415.50,141.30 L415.75,141.30 L416.00,141.30 L416.25,141.30 L416.50,141.30 L416.75,141.30 L417.00,141.30 L417.25,141.30 L417.50,141.30 L417.75,141.30 L418.00,141.30 L418.25,141.30 L418.50,141.30 L418.75,141.30 L419.00,141.30 L419.25,141.30 L419.50,141.30 L419.75,141.30 L420.00,141.30 L420.25,141.30 L420.50,141.30 L420.75,141.30 L421.00,141.30 L421.25,141.30 L421.50,141.30 L421.75,141.30 L422.00,141.30 L422.25,141.30 L422.50,141.30 L422.75,141.30 L423.00,141.30 L423.25,141.30 L423.50,141.30 L423.75,141.30 L424.00,141.30 L424.25,141.30 L424.50,141.30 L424.75,141.30 L425.00,141.30 L425.25,141.30 L425.50,141.30 L425.75,141.30 L426.00,141.30 L426.25,141.30 L426.50,141.30 L426.75,141.30 L427.00,141.30 L427.25,141.30 L427.50,141.30 L427.75,141.30 L428.00,141.30 L428.25,141.30 L428.50,141.30 L428.75,141.30 L429.00,141.30 L429.25,141.30 L429.50,141.30 L429.75,141.30 L430.00,141.30 L430.25,141.30 L430.50,141.30 L430.75,141.30 L431.00,141.30 L431.25,141.30 L431.50,141.30 L431.75,141.30 L432.00,141.30 L432.25,141.30 L432.50,141.30 L432.75,141.30 L433.00,141.30 L433.25,141.30 L433.50,141.30 L433.75,141.30 L434.00,141.30 L434.25,141.30 L434.50,141.30 L434.75,141.30 L435.00,141.30 L435.25,141.30 L435.50,141.30 L435.75,141.30 L436.00,141.30 L436.25,141.30 L436.50,141.30 L436.75,141.30 L437.00,141.30 L437.25,141.30 L437.50,141.30 L437.75,141.30 L438.00,141.30 L438.25,141.30 L438.50,141.30 L438.75,141.30 L439.00,141.30 L439.25,141.30 L439.50,141.30 L439.75,141.30 L440.00,141.30 L440.25,141.30 L440.50,141.30 L440.75,141.30 L441.00,141.30 L441.25,141.30 L441.50,141.30 L441.75,141.30 L442.00,141.30 L442.25,141.30 L442.50,141.30 L442.75,141.30 L443.00,141.30 L443.25,141.30 L443.50,141.30 L443.75,141.30 L444.00,141.30 L444.25,141.30 L444.50,141.30 L444.75,141.30 L445.00,141.30 L445.25,141.30 L445.50,141.30 L445.75,141.30 L446.00,141.30 L446.25,141.30 L446.50,141.30 L446.75,141.30 L447.00,141.30 L447.25,141.30 L447.50,141.30 L447.75,141.30 L448.00,141.30 L448.25,141.30 L448.50,141.30 L448.75,141.30 L449.00,141.30 L449.25,141.30 L449.50,141.30 L449.75,141.30 L450.00,141.30 L450.25,141.30 L450.50,141.30 L450.75,141.30 L451.00,141.30 L451.25,141.30 L451.50,141.30 L451.75,141.30 L452.00,141.30 L452.25,141.30 L452.50,141.30 L452.75,141.30 L453.00,141.30 L453.25,141.30 L453.50,141.30 L453.75,141.30 L454.00,141.30 L454.25,141.30 L454.50,141.30 L454.75,141.30 L455.00,141.30 L455.25,141.30 L455.50,141.30 L455.75,141.30 L456.00,141.30 L456.25,141.30 L456.50,141.30 L456.75,141.30 L457.00,141.30 L457.25,141.30 L457.50,141.30 L457.75,141.30 L458.00,141.30 L458.25,141.30 L458.50,141.30 L458.75,141.30 L459.00,141.30 L459.25,141.30 L459.50,141.30 L459.75,141.30 L460.00,141.30 L460.25,141.30 L460.50,141.30 L460.75,141.30 L461.00,141.30 L461.25,141.30 L461.50,141.30 L461.75,141.30 L462.00,141.30 L462.25,141.30 L462.50,141.30 L462.75,141.30 L463.00,141.30 L463.25,141.30 L463.50,141.30 L463.75,141.30 L464.00,141.30 L464.25,141.30 L464.50,141.30 L464.75,141.30 L465.00,141.30 L465.25,141.30 L465.50,141.30 L465.75,141.30 L466.00,141.30 L466.25,141.30 L466.50,141.30 L466.75,141.30 L467.00,141.30 L467.25,141.30 L467.50,141.30 L467.75,141.30 L468.00,141.30 L468.25,141.30 L468.50,141.30 L468.75,141.30 L469.00,141.30 L469.25,141.30 L469.50,141.30 L469.75,141.30 L470.00,141.30 L470.25,141.30 L470.50,141.30 L470.75,141.30 L471.00,141.30 L471.25,141.30 L471.50,141.30 L471.75,141.30 L472.00,141.30 L472.25,141.30 L472.50,141.30 L472.75,141.30 L473.00,141.30 L473.25,141.30 L473.50,141.30 L473.75,141.30 L474.00,141.30 L474.25,141.30 L474.50,141.30 L474.75,141.30 L475.00,141.30 L475.25,141.30 L475.50,141.30 L475.75,141.30 L476.00,141.30 L476.25,141.30 L476.50,141.30 L476.75,141.30 L477.00,141.30 L477.25,141.30 L477.50,141.30 L477.75,141.30 L478.00,141.30 L478.25,141.30 L478.50,141.30 L478.75,141.30 L479.00,141.30 L479.25,141.30 L479.50,141.30 L479.75,141.30 L480.00,141.30 L480.25,141.30 L480.50,141.30 L480.75,141.30 L481.00,141.30 L481.25,141.30 L481.50,141.30 L481.75,141.30 L482.00,141.30 L482.25,141.30 L482.50,141.30 L482.75,141.30 L483.00,141.30 L483.25,141.30 L483.50,141.30 L483.75,141.30 L484.00,141.30 L484.25,141.30 L484.50,141.30 L484.75,141.30" fill="none" stroke="#000" stroke-width="1.0" stroke-linejoin="bevel"/>
<line x1="44.10" y1="245.00" x2="44.10" y2="427.50" stroke="#000" stroke-width="1.4"/>
<line x1="38.50" y1="426.80" x2="44.10" y2="426.80" stroke="#000" stroke-width="1.4"/>
<text x="32.50" y="431.30" font-size="12" font-weight="normal" text-anchor="end">0</text>
<line x1="38.50" y1="390.58" x2="44.10" y2="390.58" stroke="#000" stroke-width="1.4"/>
<text x="34.40" y="395.08" font-size="12" font-weight="normal" text-anchor="end">15</text>
<line x1="38.50" y1="354.36" x2="44.10" y2="354.36" stroke="#000" stroke-width="1.4"/>
<text x="34.40" y="358.86" font-size="12" font-weight="normal" text-anchor="end">30</text>
<line x1="38.50" y1="318.14" x2="44.10" y2="318.14" stroke="#000" stroke-width="1.4"/>
<text x="34.40" y="322.64" font-size="12" font-weight="normal" text-anchor="end">45</text>
<line x1="38.50" y1="281.92" x2="44.10" y2="281.92" stroke="#000" stroke-width="1.4"/>
<text x="34.40" y="286.42" font-size="12" font-weight="normal" text-anchor="end">60</text>
<line x1="38.50" y1="245.70" x2="44.10" y2="245.70" stroke="#000" stroke-width="1.4"/>
<text x="34.40" y="250.20" font-size="12" font-weight="normal" text-anchor="end">75</text>
<line x1="38.50" y1="426.80" x2="299.80" y2="426.80" stroke="#000" stroke-width="1.5"/>
<rect x="61.80" y="410.40" width="22.00" height="16.40" fill="#fff" stroke="#000" stroke-width="1.5"/>
<line x1="72.80" y1="401.20" x2="72.80" y2="410.40" stroke="#000" stroke-width="1.5"/>
<line x1="66.41" y1="401.20" x2="79.19" y2="401.20" stroke="#000" stroke-width="1.5"/>
<rect x="83.80" y="359.20" width="22.00" height="67.60" fill="#fff" stroke="#000" stroke-width="1.5"/>
<line x1="94.80" y1="349.20" x2="94.80" y2="359.20" stroke="#000" stroke-width="1.5"/>
<line x1="88.41" y1="349.20" x2="101.19" y2="349.20" stroke="#000" stroke-width="1.5"/>
<rect x="105.80" y="362.30" width="21.60" height="64.50" fill="#fff" stroke="#000" stroke-width="1.5"/>
<line x1="116.60" y1="353.00" x2="116.60" y2="362.30" stroke="#000" stroke-width="1.5"/>
<line x1="110.33" y1="353.00" x2="122.87" y2="353.00" stroke="#000" stroke-width="1.5"/>
<rect x="127.40" y="403.80" width="21.70" height="23.00" fill="#fff" stroke="#000" stroke-width="1.5"/>
<line x1="138.25" y1="396.00" x2="138.25" y2="403.80" stroke="#000" stroke-width="1.5"/>
<line x1="131.95" y1="396.00" x2="144.55" y2="396.00" stroke="#000" stroke-width="1.5"/>
<rect x="149.10" y="350.00" width="21.30" height="76.80" fill="#fff" stroke="#000" stroke-width="1.5"/>
<line x1="159.75" y1="341.30" x2="159.75" y2="350.00" stroke="#000" stroke-width="1.5"/>
<line x1="153.57" y1="341.30" x2="165.93" y2="341.30" stroke="#000" stroke-width="1.5"/>
<rect x="183.30" y="412.70" width="21.85" height="14.10" fill="#d3d3d3" stroke="#000" stroke-width="1.5"/>
<line x1="194.23" y1="404.10" x2="194.23" y2="412.70" stroke="#000" stroke-width="1.5"/>
<line x1="187.88" y1="404.10" x2="200.57" y2="404.10" stroke="#000" stroke-width="1.5"/>
<rect x="205.15" y="315.80" width="21.95" height="111.00" fill="#d3d3d3" stroke="#000" stroke-width="1.5"/>
<line x1="216.12" y1="307.20" x2="216.12" y2="315.80" stroke="#000" stroke-width="1.5"/>
<line x1="209.75" y1="307.20" x2="222.50" y2="307.20" stroke="#000" stroke-width="1.5"/>
<rect x="227.10" y="310.20" width="21.90" height="116.60" fill="#d3d3d3" stroke="#000" stroke-width="1.5"/>
<line x1="238.05" y1="302.90" x2="238.05" y2="310.20" stroke="#000" stroke-width="1.5"/>
<line x1="231.69" y1="302.90" x2="244.41" y2="302.90" stroke="#000" stroke-width="1.5"/>
<rect x="249.00" y="329.90" width="21.60" height="96.90" fill="#d3d3d3" stroke="#000" stroke-width="1.5"/>
<line x1="259.80" y1="315.50" x2="259.80" y2="329.90" stroke="#000" stroke-width="1.5"/>
<line x1="253.53" y1="315.50" x2="266.07" y2="315.50" stroke="#000" stroke-width="1.5"/>
<rect x="270.60" y="342.00" width="21.10" height="84.80" fill="#d3d3d3" stroke="#000" stroke-width="1.5"/>
<line x1="281.15" y1="331.20" x2="281.15" y2="342.00" stroke="#000" stroke-width="1.5"/>
<line x1="275.02" y1="331.20" x2="287.28" y2="331.20" stroke="#000" stroke-width="1.5"/>
<path d="M94.50,337.10 L94.50,333.70 M94.50,337.10 L97.73,336.05 M94.50,337.10 L96.50,339.85 M94.50,337.10 L92.50,339.85 M94.50,337.10 L91.27,336.05 " stroke="#000" stroke-width="1.35" stroke-linecap="round" fill="none"/>
<path d="M116.30,341.60 L116.30,338.20 M116.30,341.60 L119.53,340.55 M116.30,341.60 L118.30,344.35 M116.30,341.60 L114.30,344.35 M116.30,341.60 L113.07,340.55 " stroke="#000" stroke-width="1.35" stroke-linecap="round" fill="none"/>
<path d="M159.60,329.00 L159.60,325.60 M159.60,329.00 L162.83,327.95 M159.60,329.00 L161.60,331.75 M159.60,329.00 L157.60,331.75 M159.60,329.00 L156.37,327.95 " stroke="#000" stroke-width="1.35" stroke-linecap="round" fill="none"/>
<path d="M212.05,296.70 L212.05,293.30 M212.05,296.70 L215.28,295.65 M212.05,296.70 L214.05,299.45 M212.05,296.70 L210.05,299.45 M212.05,296.70 L208.82,295.65 " stroke="#000" stroke-width="1.35" stroke-linecap="round" fill="none"/>
<path d="M221.55,296.70 L221.55,293.30 M221.55,296.70 L224.78,295.65 M221.55,296.70 L223.55,299.45 M221.55,296.70 L219.55,299.45 M221.55,296.70 L218.32,295.65 " stroke="#000" stroke-width="1.35" stroke-linecap="round" fill="none"/>
<path d="M234.25,290.20 L234.25,286.80 M234.25,290.20 L237.48,289.15 M234.25,290.20 L236.25,292.95 M234.25,290.20 L232.25,292.95 M234.25,290.20 L231.02,289.15 " stroke="#000" stroke-width="1.35" stroke-linecap="round" fill="none"/>
<path d="M243.75,290.20 L243.75,286.80 M243.75,290.20 L246.98,289.15 M243.75,290.20 L245.75,292.95 M243.75,290.20 L241.75,292.95 M243.75,290.20 L240.52,289.15 " stroke="#000" stroke-width="1.35" stroke-linecap="round" fill="none"/>
<path d="M257.75,302.00 L257.75,298.60 M257.75,302.00 L260.98,300.95 M257.75,302.00 L259.75,304.75 M257.75,302.00 L255.75,304.75 M257.75,302.00 L254.52,300.95 " stroke="#000" stroke-width="1.35" stroke-linecap="round" fill="none"/>
<path d="M267.25,302.00 L267.25,298.60 M267.25,302.00 L270.48,300.95 M267.25,302.00 L269.25,304.75 M267.25,302.00 L265.25,304.75 M267.25,302.00 L264.02,300.95 " stroke="#000" stroke-width="1.35" stroke-linecap="round" fill="none"/>
<text x="76.90" y="433.30" font-size="14" font-weight="normal" text-anchor="end" transform="rotate(-90 76.90 433.30)">none</text>
<text x="98.90" y="433.30" font-size="14" font-weight="normal" text-anchor="end" transform="rotate(-90 98.90 433.30)">FasL</text>
<text x="120.70" y="433.30" font-size="14" font-weight="normal" text-anchor="end" transform="rotate(-90 120.70 433.30)">CH11</text>
<text x="142.35" y="433.30" font-size="14" font-weight="normal" text-anchor="end" transform="rotate(-90 142.35 433.30)">APO1-1</text>
<text x="163.85" y="433.30" font-size="14" font-weight="normal" text-anchor="end" transform="rotate(-90 163.85 433.30)">TRAIL</text>
<text x="198.33" y="433.30" font-size="14" font-weight="normal" text-anchor="end" transform="rotate(-90 198.33 433.30)">none</text>
<text x="220.22" y="433.30" font-size="14" font-weight="normal" text-anchor="end" transform="rotate(-90 220.22 433.30)">FasL</text>
<text x="242.15" y="433.30" font-size="14" font-weight="normal" text-anchor="end" transform="rotate(-90 242.15 433.30)">CH11</text>
<text x="263.90" y="433.30" font-size="14" font-weight="normal" text-anchor="end" transform="rotate(-90 263.90 433.30)">APO1-1</text>
<text x="285.25" y="433.30" font-size="14" font-weight="normal" text-anchor="end" transform="rotate(-90 285.25 433.30)">TRAIL</text>
<path d="M61.30,484.90 L61.30,489.40 L292.70,489.40 L292.70,484.90" fill="none" stroke="#000" stroke-width="1.5"/>
<text x="123.80" y="507.30" font-size="16" font-weight="bold" text-anchor="start" textLength="112.80" lengthAdjust="spacingAndGlyphs">Jurkat (type II)</text>
<rect x="292.80" y="247.30" width="10" height="10" fill="#fff" stroke="#000" stroke-width="1.3"/>
<rect x="292.80" y="273.10" width="10" height="10" fill="#d3d3d3" stroke="#000" stroke-width="1.3"/>
<text x="309.90" y="256.40" font-size="15" font-weight="normal" text-anchor="start" textLength="80.30" lengthAdjust="spacingAndGlyphs">Control IgG</text>
<text x="309.20" y="280.70" font-size="15" font-weight="normal" text-anchor="start" textLength="82.50" lengthAdjust="spacingAndGlyphs">Sema3A-Fc</text>
<text x="13.80" y="338.60" font-size="16.5" font-weight="bold" text-anchor="middle" transform="rotate(-90 13.80 338.60)" textLength="207.50" lengthAdjust="spacingAndGlyphs">% Annexin-V positive cells</text>
<line x1="43.10" y1="568.30" x2="43.10" y2="750.70" stroke="#000" stroke-width="1.4"/>
<line x1="37.50" y1="750.00" x2="43.10" y2="750.00" stroke="#000" stroke-width="1.4"/>
<text x="32.10" y="754.50" font-size="12" font-weight="normal" text-anchor="end">0</text>
<line x1="37.50" y1="713.80" x2="43.10" y2="713.80" stroke="#000" stroke-width="1.4"/>
<text x="34.00" y="718.30" font-size="12" font-weight="normal" text-anchor="end">15</text>
<line x1="37.50" y1="677.60" x2="43.10" y2="677.60" stroke="#000" stroke-width="1.4"/>
<text x="34.00" y="682.10" font-size="12" font-weight="normal" text-anchor="end">30</text>
<line x1="37.50" y1="641.40" x2="43.10" y2="641.40" stroke="#000" stroke-width="1.4"/>
<text x="34.00" y="645.90" font-size="12" font-weight="normal" text-anchor="end">45</text>
<line x1="37.50" y1="605.20" x2="43.10" y2="605.20" stroke="#000" stroke-width="1.4"/>
<text x="34.00" y="609.70" font-size="12" font-weight="normal" text-anchor="end">60</text>
<line x1="37.50" y1="569.00" x2="43.10" y2="569.00" stroke="#000" stroke-width="1.4"/>
<text x="34.00" y="571.00" font-size="12" font-weight="normal" text-anchor="end">75</text>
<line x1="38.00" y1="750.00" x2="520.00" y2="750.00" stroke="#000" stroke-width="1.5"/>
<rect x="58.70" y="737.40" width="20.60" height="12.60" fill="#fff" stroke="#000" stroke-width="1.5"/>
<line x1="69.00" y1="728.00" x2="69.00" y2="737.40" stroke="#000" stroke-width="1.5"/>
<line x1="63.02" y1="728.00" x2="74.98" y2="728.00" stroke="#000" stroke-width="1.5"/>
<rect x="79.30" y="686.20" width="20.50" height="63.80" fill="#fff" stroke="#000" stroke-width="1.5"/>
<line x1="89.55" y1="677.70" x2="89.55" y2="686.20" stroke="#000" stroke-width="1.5"/>
<line x1="83.60" y1="677.70" x2="95.50" y2="677.70" stroke="#000" stroke-width="1.5"/>
<rect x="99.80" y="685.50" width="20.70" height="64.50" fill="#fff" stroke="#000" stroke-width="1.5"/>
<line x1="110.15" y1="675.10" x2="110.15" y2="685.50" stroke="#000" stroke-width="1.5"/>
<line x1="104.14" y1="675.10" x2="116.16" y2="675.10" stroke="#000" stroke-width="1.5"/>
<rect x="120.50" y="682.80" width="20.50" height="67.20" fill="#fff" stroke="#000" stroke-width="1.5"/>
<line x1="130.75" y1="677.30" x2="130.75" y2="682.80" stroke="#000" stroke-width="1.5"/>
<line x1="124.80" y1="677.30" x2="136.70" y2="677.30" stroke="#000" stroke-width="1.5"/>
<rect x="141.00" y="669.30" width="19.50" height="80.70" fill="#fff" stroke="#000" stroke-width="1.5"/>
<line x1="150.75" y1="661.70" x2="150.75" y2="669.30" stroke="#000" stroke-width="1.5"/>
<line x1="145.09" y1="661.70" x2="156.41" y2="661.70" stroke="#000" stroke-width="1.5"/>
<rect x="170.10" y="737.20" width="20.90" height="12.80" fill="#d3d3d3" stroke="#000" stroke-width="1.5"/>
<line x1="180.55" y1="727.70" x2="180.55" y2="737.20" stroke="#000" stroke-width="1.5"/>
<line x1="174.48" y1="727.70" x2="186.62" y2="727.70" stroke="#000" stroke-width="1.5"/>
<rect x="191.00" y="668.80" width="20.50" height="81.20" fill="#d3d3d3" stroke="#000" stroke-width="1.5"/>
<line x1="201.25" y1="654.30" x2="201.25" y2="668.80" stroke="#000" stroke-width="1.5"/>
<line x1="195.30" y1="654.30" x2="207.20" y2="654.30" stroke="#000" stroke-width="1.5"/>
<rect x="211.50" y="670.50" width="20.50" height="79.50" fill="#d3d3d3" stroke="#000" stroke-width="1.5"/>
<line x1="221.75" y1="660.80" x2="221.75" y2="670.50" stroke="#000" stroke-width="1.5"/>
<line x1="215.80" y1="660.80" x2="227.70" y2="660.80" stroke="#000" stroke-width="1.5"/>
<rect x="232.00" y="667.70" width="20.10" height="82.30" fill="#d3d3d3" stroke="#000" stroke-width="1.5"/>
<line x1="242.05" y1="654.30" x2="242.05" y2="667.70" stroke="#000" stroke-width="1.5"/>
<line x1="236.21" y1="654.30" x2="247.89" y2="654.30" stroke="#000" stroke-width="1.5"/>
<rect x="252.10" y="661.90" width="19.80" height="88.10" fill="#d3d3d3" stroke="#000" stroke-width="1.5"/>
<line x1="262.00" y1="655.00" x2="262.00" y2="661.90" stroke="#000" stroke-width="1.5"/>
<line x1="256.25" y1="655.00" x2="267.75" y2="655.00" stroke="#000" stroke-width="1.5"/>
<rect x="295.10" y="737.40" width="20.60" height="12.60" fill="#fff" stroke="#000" stroke-width="1.5"/>
<line x1="305.40" y1="733.80" x2="305.40" y2="737.40" stroke="#000" stroke-width="1.5"/>
<line x1="299.42" y1="733.80" x2="311.38" y2="733.80" stroke="#000" stroke-width="1.5"/>
<rect x="315.70" y="735.90" width="20.80" height="14.10" fill="#fff" stroke="#000" stroke-width="1.5"/>
<line x1="326.10" y1="727.70" x2="326.10" y2="735.90" stroke="#000" stroke-width="1.5"/>
<line x1="320.06" y1="727.70" x2="332.14" y2="727.70" stroke="#000" stroke-width="1.5"/>
<rect x="336.50" y="738.80" width="20.50" height="11.20" fill="#fff" stroke="#000" stroke-width="1.5"/>
<line x1="346.75" y1="734.80" x2="346.75" y2="738.80" stroke="#000" stroke-width="1.5"/>
<line x1="340.80" y1="734.80" x2="352.70" y2="734.80" stroke="#000" stroke-width="1.5"/>
<rect x="357.00" y="734.50" width="20.10" height="15.50" fill="#fff" stroke="#000" stroke-width="1.5"/>
<line x1="367.05" y1="727.70" x2="367.05" y2="734.50" stroke="#000" stroke-width="1.5"/>
<line x1="361.21" y1="727.70" x2="372.89" y2="727.70" stroke="#000" stroke-width="1.5"/>
<rect x="377.10" y="661.90" width="20.20" height="88.10" fill="#fff" stroke="#000" stroke-width="1.5"/>
<line x1="387.20" y1="657.40" x2="387.20" y2="661.90" stroke="#000" stroke-width="1.5"/>
<line x1="381.34" y1="657.40" x2="393.06" y2="657.40" stroke="#000" stroke-width="1.5"/>
<rect x="406.90" y="736.90" width="20.50" height="13.10" fill="#d3d3d3" stroke="#000" stroke-width="1.5"/>
<line x1="417.15" y1="733.70" x2="417.15" y2="736.90" stroke="#000" stroke-width="1.5"/>
<line x1="411.20" y1="733.70" x2="423.10" y2="733.70" stroke="#000" stroke-width="1.5"/>
<rect x="427.40" y="738.80" width="20.70" height="11.20" fill="#d3d3d3" stroke="#000" stroke-width="1.5"/>
<line x1="437.75" y1="734.50" x2="437.75" y2="738.80" stroke="#000" stroke-width="1.5"/>
<line x1="431.74" y1="734.50" x2="443.76" y2="734.50" stroke="#000" stroke-width="1.5"/>
<rect x="448.10" y="738.70" width="20.90" height="11.30" fill="#d3d3d3" stroke="#000" stroke-width="1.5"/>
<line x1="458.55" y1="734.80" x2="458.55" y2="738.70" stroke="#000" stroke-width="1.5"/>
<line x1="452.48" y1="734.80" x2="464.62" y2="734.80" stroke="#000" stroke-width="1.5"/>
<rect x="469.00" y="734.80" width="19.80" height="15.20" fill="#d3d3d3" stroke="#000" stroke-width="1.5"/>
<line x1="478.90" y1="729.80" x2="478.90" y2="734.80" stroke="#000" stroke-width="1.5"/>
<line x1="473.15" y1="729.80" x2="484.65" y2="729.80" stroke="#000" stroke-width="1.5"/>
<rect x="488.80" y="664.60" width="20.20" height="85.40" fill="#d3d3d3" stroke="#000" stroke-width="1.5"/>
<line x1="498.90" y1="657.20" x2="498.90" y2="664.60" stroke="#000" stroke-width="1.5"/>
<line x1="493.04" y1="657.20" x2="504.76" y2="657.20" stroke="#000" stroke-width="1.5"/>
<line x1="283.50" y1="568.80" x2="283.50" y2="750.00" stroke="#000" stroke-width="1.5"/>
<line x1="281.00" y1="568.80" x2="286.00" y2="568.80" stroke="#000" stroke-width="1.5"/>
<line x1="281.30" y1="713.80" x2="286.00" y2="713.80" stroke="#000" stroke-width="1.5"/>
<line x1="281.30" y1="677.60" x2="286.00" y2="677.60" stroke="#000" stroke-width="1.5"/>
<line x1="281.30" y1="641.40" x2="286.00" y2="641.40" stroke="#000" stroke-width="1.5"/>
<line x1="281.30" y1="605.20" x2="286.00" y2="605.20" stroke="#000" stroke-width="1.5"/>
<path d="M89.70,660.80 L89.70,657.40 M89.70,660.80 L92.93,659.75 M89.70,660.80 L91.70,663.55 M89.70,660.80 L87.70,663.55 M89.70,660.80 L86.47,659.75 " stroke="#000" stroke-width="1.35" stroke-linecap="round" fill="none"/>
<path d="M110.00,663.60 L110.00,660.20 M110.00,663.60 L113.23,662.55 M110.00,663.60 L112.00,666.35 M110.00,663.60 L108.00,666.35 M110.00,663.60 L106.77,662.55 " stroke="#000" stroke-width="1.35" stroke-linecap="round" fill="none"/>
<path d="M130.40,664.40 L130.40,661.00 M130.40,664.40 L133.63,663.35 M130.40,664.40 L132.40,667.15 M130.40,664.40 L128.40,667.15 M130.40,664.40 L127.17,663.35 " stroke="#000" stroke-width="1.35" stroke-linecap="round" fill="none"/>
<path d="M150.60,650.40 L150.60,647.00 M150.60,650.40 L153.83,649.35 M150.60,650.40 L152.60,653.15 M150.60,650.40 L148.60,653.15 M150.60,650.40 L147.37,649.35 " stroke="#000" stroke-width="1.35" stroke-linecap="round" fill="none"/>
<path d="M386.70,644.30 L386.70,640.90 M386.70,644.30 L389.93,643.25 M386.70,644.30 L388.70,647.05 M386.70,644.30 L384.70,647.05 M386.70,644.30 L383.47,643.25 " stroke="#000" stroke-width="1.35" stroke-linecap="round" fill="none"/>
<text x="73.10" y="756.30" font-size="14" font-weight="normal" text-anchor="end" transform="rotate(-90 73.10 756.30)">none</text>
<text x="93.65" y="756.30" font-size="14" font-weight="normal" text-anchor="end" transform="rotate(-90 93.65 756.30)">FasL</text>
<text x="114.25" y="756.30" font-size="14" font-weight="normal" text-anchor="end" transform="rotate(-90 114.25 756.30)">CH11</text>
<text x="134.85" y="756.30" font-size="14" font-weight="normal" text-anchor="end" transform="rotate(-90 134.85 756.30)">APO1-1</text>
<text x="154.85" y="756.30" font-size="14" font-weight="normal" text-anchor="end" transform="rotate(-90 154.85 756.30)">TRAIL</text>
<text x="184.65" y="756.30" font-size="14" font-weight="normal" text-anchor="end" transform="rotate(-90 184.65 756.30)">none</text>
<text x="205.35" y="756.30" font-size="14" font-weight="normal" text-anchor="end" transform="rotate(-90 205.35 756.30)">FasL</text>
<text x="225.85" y="756.30" font-size="14" font-weight="normal" text-anchor="end" transform="rotate(-90 225.85 756.30)">CH11</text>
<text x="246.15" y="756.30" font-size="14" font-weight="normal" text-anchor="end" transform="rotate(-90 246.15 756.30)">APO1-1</text>
<text x="266.10" y="756.30" font-size="14" font-weight="normal" text-anchor="end" transform="rotate(-90 266.10 756.30)">TRAIL</text>
<text x="309.50" y="756.30" font-size="14" font-weight="normal" text-anchor="end" transform="rotate(-90 309.50 756.30)">none</text>
<text x="330.20" y="756.30" font-size="14" font-weight="normal" text-anchor="end" transform="rotate(-90 330.20 756.30)">FasL</text>
<text x="350.85" y="756.30" font-size="14" font-weight="normal" text-anchor="end" transform="rotate(-90 350.85 756.30)">CH11</text>
<text x="371.15" y="756.30" font-size="14" font-weight="normal" text-anchor="end" transform="rotate(-90 371.15 756.30)">APO1-1</text>
<text x="391.30" y="756.30" font-size="14" font-weight="normal" text-anchor="end" transform="rotate(-90 391.30 756.30)">TRAIL</text>
<text x="421.25" y="756.30" font-size="14" font-weight="normal" text-anchor="end" transform="rotate(-90 421.25 756.30)">none</text>
<text x="441.85" y="756.30" font-size="14" font-weight="normal" text-anchor="end" transform="rotate(-90 441.85 756.30)">FasL</text>
<text x="462.65" y="756.30" font-size="14" font-weight="normal" text-anchor="end" transform="rotate(-90 462.65 756.30)">CH11</text>
<text x="483.00" y="756.30" font-size="14" font-weight="normal" text-anchor="end" transform="rotate(-90 483.00 756.30)">APO1-1</text>
<text x="503.00" y="756.30" font-size="14" font-weight="normal" text-anchor="end" transform="rotate(-90 503.00 756.30)">TRAIL</text>
<path d="M58.30,807.90 L58.30,812.40 L273.10,812.40 L273.10,807.90" fill="none" stroke="#000" stroke-width="1.5"/>
<path d="M295.00,807.90 L295.00,812.40 L509.40,812.40 L509.40,807.90" fill="none" stroke="#000" stroke-width="1.5"/>
<text x="113.20" y="831.90" font-size="15" font-weight="bold" text-anchor="start" textLength="103.80" lengthAdjust="spacingAndGlyphs">HUT78 (type I)</text>
<text x="369.90" y="831.70" font-size="15" font-weight="bold" text-anchor="start" textLength="72.60" lengthAdjust="spacingAndGlyphs">HUT78.B1</text>
<rect x="411.90" y="566.10" width="10" height="10" fill="#fff" stroke="#000" stroke-width="1.3"/>
<rect x="411.90" y="592.00" width="10" height="10" fill="#d3d3d3" stroke="#000" stroke-width="1.3"/>
<text x="429.00" y="575.30" font-size="15" font-weight="normal" text-anchor="start" textLength="80.30" lengthAdjust="spacingAndGlyphs">Control IgG</text>
<text x="428.70" y="600.20" font-size="15" font-weight="normal" text-anchor="start" textLength="83.20" lengthAdjust="spacingAndGlyphs">Sema3A-Fc</text>
<text x="13.80" y="659.00" font-size="16.5" font-weight="bold" text-anchor="middle" transform="rotate(-90 13.80 659.00)" textLength="207.80" lengthAdjust="spacingAndGlyphs">% Annexin-V positive cells</text>
</svg>
</body></html>
